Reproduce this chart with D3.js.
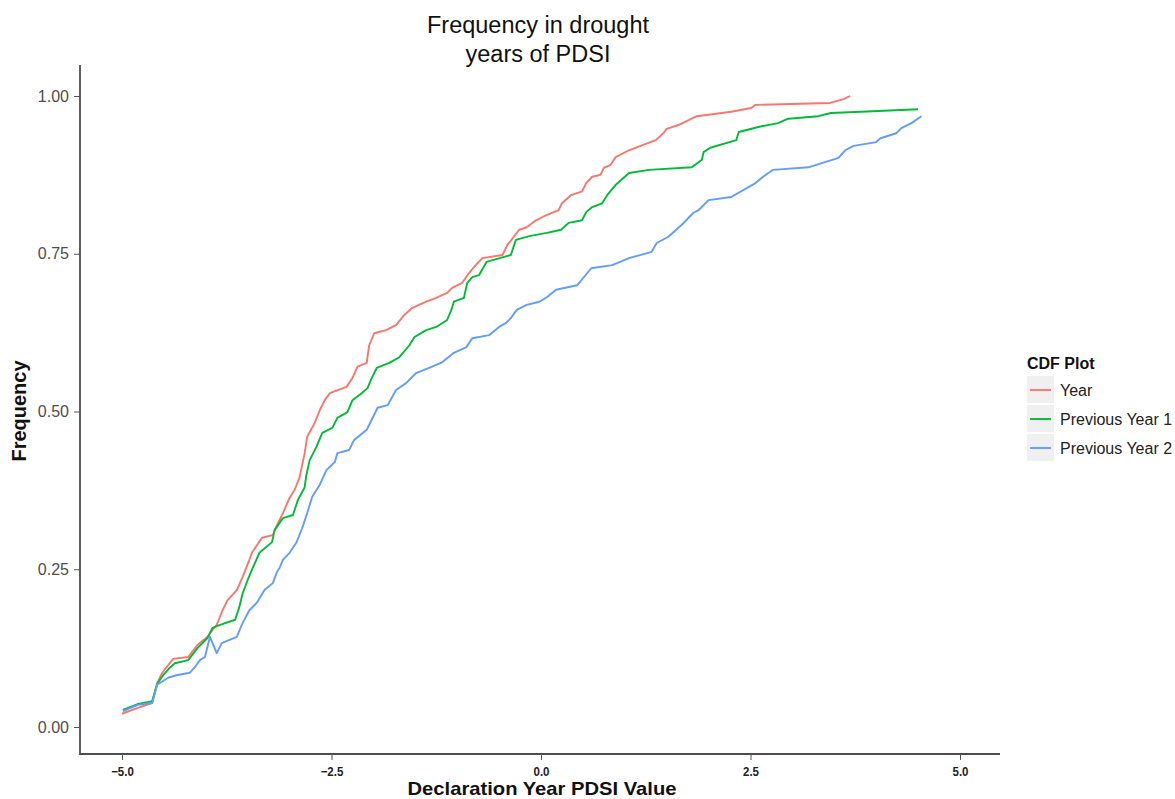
<!DOCTYPE html>
<html>
<head>
<meta charset="utf-8">
<script src="https://cdnjs.cloudflare.com/ajax/libs/d3/7.8.5/d3.min.js"></script>
<style>
  body { margin: 0; background: #fff; }
  svg text { font-family: "Liberation Sans", Arial, sans-serif; }
</style>
</head>
<body>
<svg id="chart" width="1175" height="799"></svg>
<script>
// Series: [PDSI value, cumulative frequency]
const yearSeries = [
    [-5.00, 0.021], [-4.82, 0.030], [-4.64, 0.038], [-4.58, 0.070], [-4.52, 0.086],
    [-4.39, 0.108], [-4.21, 0.111], [-4.10, 0.130], [-3.98, 0.143], [-3.87, 0.162],
    [-3.80, 0.185], [-3.74, 0.201], [-3.63, 0.217], [-3.56, 0.238], [-3.48, 0.265],
    [-3.45, 0.276], [-3.33, 0.300], [-3.20, 0.304], [-3.15, 0.320], [-3.08, 0.339],
    [-3.00, 0.363], [-2.94, 0.376], [-2.88, 0.396], [-2.82, 0.434], [-2.79, 0.460],
    [-2.70, 0.482], [-2.64, 0.502], [-2.58, 0.518], [-2.52, 0.529], [-2.32, 0.539],
    [-2.25, 0.553], [-2.19, 0.571], [-2.08, 0.577], [-2.05, 0.605], [-1.99, 0.624],
    [-1.85, 0.629], [-1.73, 0.637], [-1.63, 0.653], [-1.54, 0.664], [-1.37, 0.674],
    [-1.25, 0.680], [-1.12, 0.688], [-1.06, 0.696], [-0.94, 0.704], [-0.86, 0.719],
    [-0.80, 0.729], [-0.70, 0.743], [-0.46, 0.748], [-0.40, 0.764], [-0.26, 0.788],
    [-0.17, 0.792], [-0.06, 0.803], [0.06, 0.811], [0.21, 0.819], [0.25, 0.830],
    [0.36, 0.843], [0.49, 0.849], [0.54, 0.862], [0.61, 0.872], [0.71, 0.875],
    [0.75, 0.886], [0.83, 0.891], [0.89, 0.903], [1.05, 0.914], [1.29, 0.926],
    [1.37, 0.930], [1.46, 0.941], [1.50, 0.948], [1.64, 0.954], [1.86, 0.968],
    [2.27, 0.975], [2.51, 0.981], [2.56, 0.986], [2.87, 0.987], [3.45, 0.989],
    [3.61, 0.995], [3.69, 1.000]
];

const prevYear1Series = [
    [-4.99, 0.027], [-4.82, 0.036], [-4.64, 0.041], [-4.58, 0.068], [-4.51, 0.082],
    [-4.43, 0.094], [-4.37, 0.101], [-4.21, 0.106], [-4.10, 0.125], [-3.98, 0.141],
    [-3.92, 0.157], [-3.83, 0.162], [-3.65, 0.170], [-3.60, 0.190], [-3.56, 0.212],
    [-3.50, 0.233], [-3.44, 0.252], [-3.36, 0.276], [-3.21, 0.293], [-3.18, 0.312],
    [-3.08, 0.331], [-2.96, 0.336], [-2.90, 0.360], [-2.82, 0.380], [-2.80, 0.399],
    [-2.76, 0.423], [-2.68, 0.444], [-2.61, 0.466], [-2.49, 0.474], [-2.43, 0.490],
    [-2.31, 0.499], [-2.25, 0.518], [-2.14, 0.529], [-2.07, 0.537], [-2.02, 0.553],
    [-1.96, 0.569], [-1.81, 0.577], [-1.69, 0.586], [-1.57, 0.605], [-1.51, 0.618],
    [-1.37, 0.629], [-1.25, 0.634], [-1.12, 0.645], [-1.07, 0.661], [-1.04, 0.674],
    [-0.92, 0.680], [-0.88, 0.704], [-0.82, 0.713], [-0.74, 0.716], [-0.65, 0.737],
    [-0.44, 0.745], [-0.36, 0.748], [-0.30, 0.772], [-0.14, 0.778], [0.07, 0.783],
    [0.24, 0.788], [0.33, 0.799], [0.49, 0.803], [0.54, 0.816], [0.61, 0.824],
    [0.73, 0.830], [0.79, 0.843], [0.89, 0.859], [1.05, 0.878], [1.29, 0.883],
    [1.80, 0.887], [1.92, 0.899], [1.94, 0.911], [2.02, 0.918], [2.33, 0.930],
    [2.36, 0.943], [2.63, 0.952], [2.83, 0.957], [2.95, 0.964], [3.31, 0.968],
    [3.46, 0.973], [3.82, 0.975], [4.50, 0.979]
];

const prevYear2Series = [
    [-4.99, 0.025], [-4.81, 0.035], [-4.64, 0.038], [-4.58, 0.067], [-4.45, 0.078],
    [-4.35, 0.082], [-4.19, 0.086], [-4.13, 0.095], [-4.07, 0.106], [-4.01, 0.111],
    [-3.95, 0.143], [-3.87, 0.117], [-3.81, 0.133], [-3.63, 0.143], [-3.56, 0.165],
    [-3.48, 0.185], [-3.39, 0.197], [-3.30, 0.217], [-3.20, 0.228], [-3.15, 0.246],
    [-3.12, 0.252], [-3.08, 0.265], [-3.00, 0.276], [-2.92, 0.292], [-2.85, 0.315],
    [-2.79, 0.339], [-2.73, 0.365], [-2.64, 0.384], [-2.56, 0.407], [-2.46, 0.420],
    [-2.43, 0.434], [-2.29, 0.439], [-2.23, 0.455], [-2.08, 0.471], [-2.02, 0.487],
    [-1.95, 0.506], [-1.83, 0.510], [-1.73, 0.534], [-1.61, 0.545], [-1.49, 0.561],
    [-1.30, 0.571], [-1.18, 0.578], [-1.04, 0.593], [-0.89, 0.602], [-0.82, 0.616],
    [-0.62, 0.621], [-0.50, 0.634], [-0.42, 0.640], [-0.36, 0.648], [-0.29, 0.661],
    [-0.17, 0.669], [-0.02, 0.674], [0.07, 0.681], [0.18, 0.693], [0.43, 0.700],
    [0.60, 0.727], [0.85, 0.732], [1.05, 0.743], [1.32, 0.753], [1.38, 0.767],
    [1.52, 0.777], [1.68, 0.796], [1.82, 0.815], [1.88, 0.819], [2.00, 0.835],
    [2.27, 0.840], [2.56, 0.862], [2.65, 0.872], [2.77, 0.883], [3.19, 0.887],
    [3.55, 0.902], [3.63, 0.914], [3.73, 0.921], [4.00, 0.927], [4.05, 0.933],
    [4.24, 0.941], [4.30, 0.949], [4.42, 0.957], [4.54, 0.968]
];

const seriesNames = ["Year", "Previous Year 1", "Previous Year 2"];
const seriesColors = ["#F8766D", "#00BA38", "#619CFF"];
const xTicks = [-5.0, -2.5, 0.0, 2.5, 5.0];
const yTicks = [0.00, 0.25, 0.50, 0.75, 1.00];
const titleLines = ["Frequency in drought", "years of PDSI"];

const svg = d3.select("#chart");

// panel box
const panel = {left: 80, right: 1000, top: 65, bottom: 754};

const x = d3.scaleLinear().domain([-5, 5]).range([122, 960]);
const y = d3.scaleLinear().domain([0, 1]).range([727, 96]);

// title
svg.append("g")
    .selectAll("text")
    .data(titleLines)
    .enter()
    .append("text")
    .attr("x", 538)
    .attr("y", (d, i) => 33 + i * 29)
    .attr("text-anchor", "middle")
    .attr("font-size", 23.5)
    .attr("fill", "#111")
    .text(d => d);

// lines
const line = d3.line()
    .x(d => x(d[0]))
    .y(d => y(d[1]));

const allSeries = [yearSeries, prevYear1Series, prevYear2Series];

svg.append("g")
    .attr("class", "lines")
    .selectAll("path")
    .data(allSeries)
    .enter()
    .append("path")
    .attr("d", d => line(d))
    .attr("fill", "none")
    .attr("stroke", (d, i) => seriesColors[i])
    .attr("stroke-width", 1.9)
    .attr("stroke-linejoin", "round");

// y axis
const yAxis = svg.append("g")
    .attr("transform", "translate(" + panel.left + ",0)")
    .call(d3.axisLeft(y).tickValues(yTicks).tickFormat(d3.format(".2f")).tickSize(6).tickPadding(5));
yAxis.select(".domain").remove();
yAxis.selectAll(".tick line").attr("stroke", "#555").attr("stroke-width", 1);
yAxis.selectAll(".tick text")
    .attr("font-size", 16)
    .attr("font-family", "Liberation Sans, Arial, sans-serif")
    .attr("fill", "#4d4d4d");

// x axis
const xAxis = svg.append("g")
    .attr("transform", "translate(0," + panel.bottom + ")")
    .call(d3.axisBottom(x).tickValues(xTicks).tickFormat(d3.format(".1f")).tickSize(6).tickPadding(7));
xAxis.select(".domain").remove();
xAxis.selectAll(".tick line").attr("stroke", "#555").attr("stroke-width", 1);
xAxis.selectAll(".tick text")
    .attr("font-size", 12.5)
    .attr("font-weight", "bold")
    .attr("font-family", "Liberation Sans, Arial, sans-serif")
    .attr("fill", "#222")
    .attr("transform", "scale(0.92,1)");

// axis lines
svg.append("path")
    .attr("d", "M" + panel.left + "," + panel.top + "V" + panel.bottom + "H" + panel.right)
    .attr("fill", "none")
    .attr("stroke", "#4d4d4d")
    .attr("stroke-width", 1.8);

// axis titles
svg.append("text")
    .attr("x", 542)
    .attr("y", 795)
    .attr("text-anchor", "middle")
    .attr("font-size", 18.5)
    .attr("font-weight", "bold")
    .attr("fill", "#111")
    .attr("textLength", 269)
    .attr("lengthAdjust", "spacingAndGlyphs")
    .text("Declaration Year PDSI Value");

svg.append("text")
    .attr("transform", "translate(26,411) rotate(-90)")
    .attr("text-anchor", "middle")
    .attr("font-size", 20)
    .attr("font-weight", "bold")
    .attr("fill", "#111")
    .text("Frequency");

// legend
const legend = svg.append("g").attr("transform", "translate(1027,376)");

legend.append("text")
    .attr("x", 0)
    .attr("y", -7)
    .attr("font-size", 16)
    .attr("font-weight", "bold")
    .attr("fill", "#111")
    .text("CDF Plot");

const keys = legend.selectAll(".key")
    .data(seriesNames)
    .enter()
    .append("g")
    .attr("class", "key")
    .attr("transform", (d, i) => "translate(0," + (i * 29) + ")");

keys.append("rect")
    .attr("width", 27)
    .attr("height", 27)
    .attr("fill", "#f0f0f0");

keys.append("line")
    .attr("x1", 3)
    .attr("x2", 24)
    .attr("y1", 14)
    .attr("y2", 14)
    .attr("stroke", (d, i) => seriesColors[i])
    .attr("stroke-width", 1.9);

keys.append("text")
    .attr("x", 33)
    .attr("y", 20)
    .attr("font-size", 16)
    .attr("fill", "#222")
    .text(d => d);
</script>
</body>
</html>
